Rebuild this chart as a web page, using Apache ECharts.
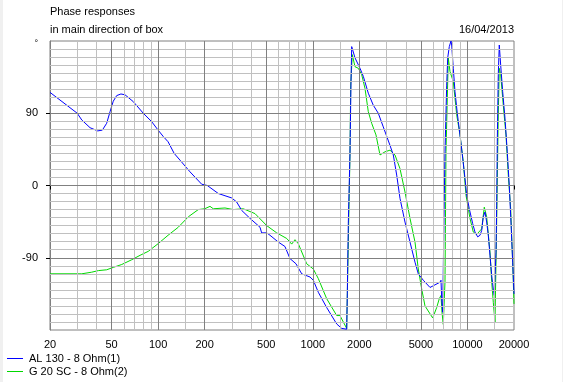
<!DOCTYPE html>
<html>
<head>
<meta charset="utf-8">
<script src="https://cdn.jsdelivr.net/npm/echarts@6/dist/echarts.min.js"></script>
<style>
html,body{margin:0;padding:0;background:#fff;}
#c{width:563px;height:382px;}
</style>
</head>
<body>
<div id="c"></div>
<script>
// ---- data ----
const titleLine1 = 'Phase responses';
const titleLine2 = 'in main direction of box';
const dateText = '16/04/2013';
const seriesNames = ['AL 130 - 8 Ohm(1)', 'G 20 SC - 8 Ohm(2)'];

const xTickLabels = [20, 50, 100, 200, 500, 1000, 2000, 5000, 10000, 20000];
const xMajorGrid = [50, 100, 200, 500, 1000, 2000, 5000, 10000];
const xMinorGrid = [30, 40, 60, 70, 80, 90, 150, 300, 400, 600, 700, 800, 900, 1500, 3000, 4000, 6000, 7000, 8000, 9000, 15000];
const yTickLabels = [-90, 0, 90, 180];
const yMajorGrid = [-90, 0, 90];
const yMinorGrid = [-170,-160,-150,-140,-130,-120,-110,-100,-80,-70,-60,-50,-40,-30,-20,-10,10,20,30,40,50,60,70,80,100,110,120,130,140,150,160,170];

const blueFreq = [20,30,32.1,36.3,40.7,43.6,46.5,48.9,51.3,54,57.5,61.1,69.1,80.2,90.9,100,108,116,127,138.5,160.8,191.3,208,245,299,322,347,393,456,467,504,529,599,661,712,779,848,960,1008,1086,1230,1428,1538,1657,1672,1697,1740,1767,1785,1875,2020,2122,2285,2462,2652,2857,3157,3317,3488,3664,3947,4253,4581,4811,5183,5727,6645,6745,6816,6918,7054,7159,7343,7454,7633,7828,7910,8101,8309,8597,8950,9318,9641,9888,10278,10812,11190,11648,12054,12364,12660,12985,13318,13640,13990,14348,14693,14915,15297,15456,15596,15827,16066,16402,16897,17486,18095,18641,19119,19609,20000];
const bluePhase = [116,90,81.6,72,68,69,77.5,92,105,112,114,113,104.5,90,79.5,69,61,54.5,40,31.6,17,1.6,0,-10,-15.5,-20.5,-31,-41,-52,-59,-59,-62,-70.5,-76,-91,-97.5,-110,-114,-118,-133,-152,-172.5,-178,-179,-135,-47.5,40,129.5,173,159,146,136,115,100,90,73,50,38,13,-16,-45.5,-70.5,-95.5,-110,-118,-127,-120.5,-118,-141,-158,-39,42,125,159,173,180,175,146,117,90,63,34,9,-12,-29,-47.5,-58,-64,-62,-56,-39,-33,-45.5,-62,-87,-112,-129,-137,-83,-24.6,54.5,138,175,150,117,84,42,0,-45.5,-95.5,-135];

const greenFreq = [20,32.1,37.2,41.1,46.5,51.3,58.2,67.5,76.4,86.4,100,116,135,156.8,181.9,200,216.5,227.4,270.7,306.3,355.5,423,504,584.6,678.4,730.5,767.4,806,913.5,1008,1086,1230,1428,1500,1575,1657,1740,1759,1801,1875,1970,2072,2176,2285,2404,2563,2720,2931,3157,3401,3664,3947,4253,4581,4811,5062,5316,5961,6327,6577,6745,6846,6980,7159,7266,7519,7713,8101,8521,8950,9400,9786,10387,10910,11477,12364,12852,13318,13990,14348,14693,15070,15410,15827,16066,16402,17054,17749,18368,19036,19609,20000];
const greenPhase = [-110,-110,-108,-106,-105,-102,-98.4,-92.5,-87,-82,-72.5,-62,-52,-39,-30,-29,-26,-29,-28,-30,-29,-35,-50,-59,-66,-73,-67.5,-72.5,-97.5,-104,-116,-141,-162,-162,-170,-178,38,125,163,148,146,138,121,92,77.5,63,38,42,44,38,21,-8,-41,-70.5,-104,-129,-150,-165,-152,-141,-137,-158,-173,-120,42,159,142,129.5,88,63,29.5,-12,-41,-58,-61,-54,-27,-39,-83,-120,-145.5,-170,-60,88,146,138,100,63,13,-29,-95.5,-147.5];

// ---- chart ----
const FONT = "'Liberation Sans', Arial, sans-serif";
const MAJOR = '#808080', MINOR = '#c0c0c0';
const zip = (xs, ys) => xs.map((x, i) => [x, ys[i]]);

const gridLines = []
  .concat(xMinorGrid.map(v => ({ xAxis: v, lineStyle: { color: MINOR } })))
  .concat(yMinorGrid.map(v => ({ yAxis: v, lineStyle: { color: MINOR } })))
  .concat(xMajorGrid.map(v => ({ xAxis: v, lineStyle: { color: MAJOR } })))
  .concat(yMajorGrid.map(v => ({ yAxis: v, lineStyle: { color: MAJOR } })));

const chart = echarts.init(document.getElementById('c'), null, { renderer: 'canvas' });
chart.setOption({
  animation: false,
  backgroundColor: '#ffffff',
  textStyle: { fontFamily: FONT },
  grid: { left: 50, right: 49, top: 41, bottom: 52, show: true, borderColor: MAJOR, borderWidth: 1, backgroundColor: 'transparent' },
  xAxis: {
    type: 'log', logBase: 10, min: 20, max: 20000,
    axisLine: { show: true, lineStyle: { color: MAJOR } },
    axisTick: { show: true, customValues: xTickLabels, length: 4, lineStyle: { color: '#000' } },
    axisLabel: { customValues: xTickLabels, color: '#000', fontSize: 11, fontFamily: FONT, margin: 9, formatter: v => String(Math.round(v)) },
    splitLine: { show: false },
    minorTick: { show: false }
  },
  yAxis: {
    type: 'value', min: -180, max: 180, interval: 10,
    axisLine: { show: true, lineStyle: { color: MAJOR } },
    axisTick: { show: true, customValues: yMajorGrid, length: 4, lineStyle: { color: '#000' } },
    axisLabel: {
      customValues: yTickLabels, color: '#000', fontSize: 11, fontFamily: FONT, margin: 12,
      formatter: v => v === 180 ? '{d|°}' : String(v),
      rich: { d: { fontSize: 9, padding: [6, 0, 0, 0], color: '#000' } }
    },
    splitLine: { show: false }
  },
  legend: {
    data: seriesNames,
    orient: 'vertical', left: 7, top: 352, padding: 0,
    icon: 'rect', itemWidth: 16, itemHeight: 1, itemGap: 0,
    textStyle: { color: '#000', fontSize: 11, fontFamily: FONT, lineHeight: 13, padding: [0, 0, 0, 1] }
  },
  graphic: [
    { type: 'rect', shape: { x: 0, y: 0, width: 3, height: 382 }, style: { fill: '#f0f0f0' }, silent: true },
    { type: 'rect', shape: { x: 562, y: 0, width: 1, height: 382 }, style: { fill: '#f0f0f0' }, silent: true },
    { type: 'text', left: 50, top: 6, style: { text: titleLine1, fill: '#000', font: '11px ' + FONT } },
    { type: 'text', left: 50, top: 24, style: { text: titleLine2, fill: '#000', font: '11px ' + FONT } },
    { type: 'text', right: 49, top: 24, style: { text: dateText, fill: '#000', font: '11px ' + FONT } }
  ],
  series: [
    {
      name: '__grid', type: 'line', data: [], z: 1, silent: true,
      markLine: { silent: true, symbol: 'none', label: { show: false }, animation: false, data: gridLines, lineStyle: { width: 1, type: 'solid' } }
    },
    {
      name: seriesNames[1], type: 'line', data: zip(greenFreq, greenPhase), z: 3,
      showSymbol: false, symbol: 'none', lineStyle: { color: '#00d800', width: 1 }, itemStyle: { color: '#00d800' }
    },
    {
      name: seriesNames[0], type: 'line', data: zip(blueFreq, bluePhase), z: 4,
      showSymbol: false, symbol: 'none', lineStyle: { color: '#0000ff', width: 1 }, itemStyle: { color: '#0000ff' }
    }
  ]
});
</script>
</body>
</html>
